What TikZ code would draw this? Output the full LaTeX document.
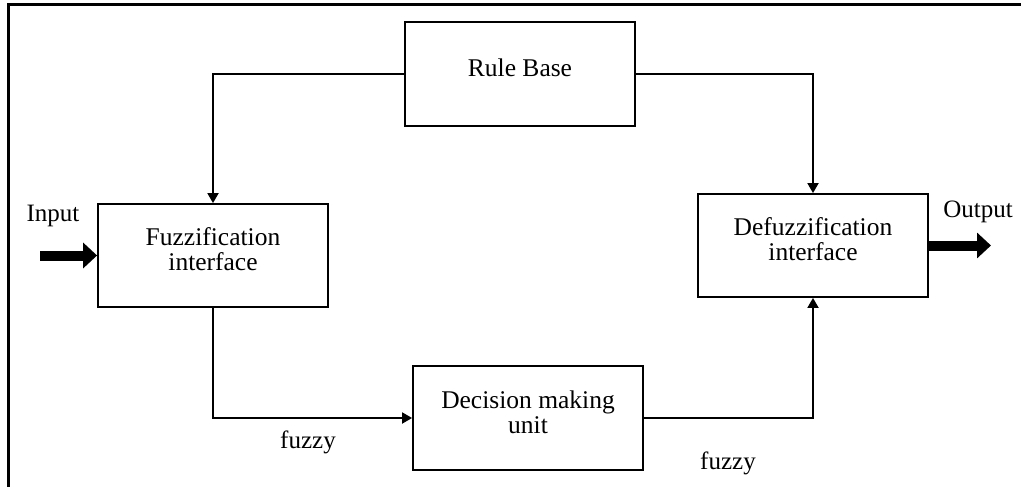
\documentclass[tikz,border=0pt]{standalone}
\usepackage{fontspec}
\setmainfont{Liberation Serif}
\usetikzlibrary{arrows.meta}
\begin{document}
\begin{tikzpicture}[x=1pt,y=-1pt,
  block/.style={draw,line width=1.8pt,minimum width=230pt,minimum height=104pt,align=center,inner sep=0pt,text depth=12pt,font=\fontsize{25.5}{25}\selectfont},
  conn/.style={line width=1.8pt,-{Triangle[length=10pt,width=11pt]}},
  thick arrow/.style={line width=10pt,-{Triangle[length=14pt,width=25pt]}},
  lbl/.style={font=\fontsize{25}{26}\selectfont,inner sep=0pt}]
\useasboundingbox (0,0) rectangle (1021,487);
\draw[line width=3pt] (8,487) -- (8,5) -- (1021,5);
\node[block] (rb) at (520,74) {Rule Base};
\node[block,minimum height=103pt] (fz) at (213,255.5) {Fuzzification\\interface};
\node[block,minimum height=103pt] (df) at (813,245.5) {Defuzzification\\interface};
\node[block] (dm) at (528,418) {Decision making\\unit};
\draw[conn] (rb.west) -| (fz.north);
\draw[conn] (rb.east) -| (df.north);
\draw[conn] (fz.south) |- (dm.west);
\draw[conn] (dm.east) -| (df.south);
\coordinate (inS) at (40,255.5);
\coordinate (outE) at (991,245.5);
\draw[thick arrow] (inS) -- (fz.west);
\draw[thick arrow] (df.east) -- (outE);
\node[lbl] (lin) at (53,216) {Input};
\node[lbl] (lout) at (978,212) {Output};
\node[lbl] (f1) at (308,442) {fuzzy};
\node[lbl] (f2) at (728,463) {fuzzy};
\end{tikzpicture}
\end{document}
